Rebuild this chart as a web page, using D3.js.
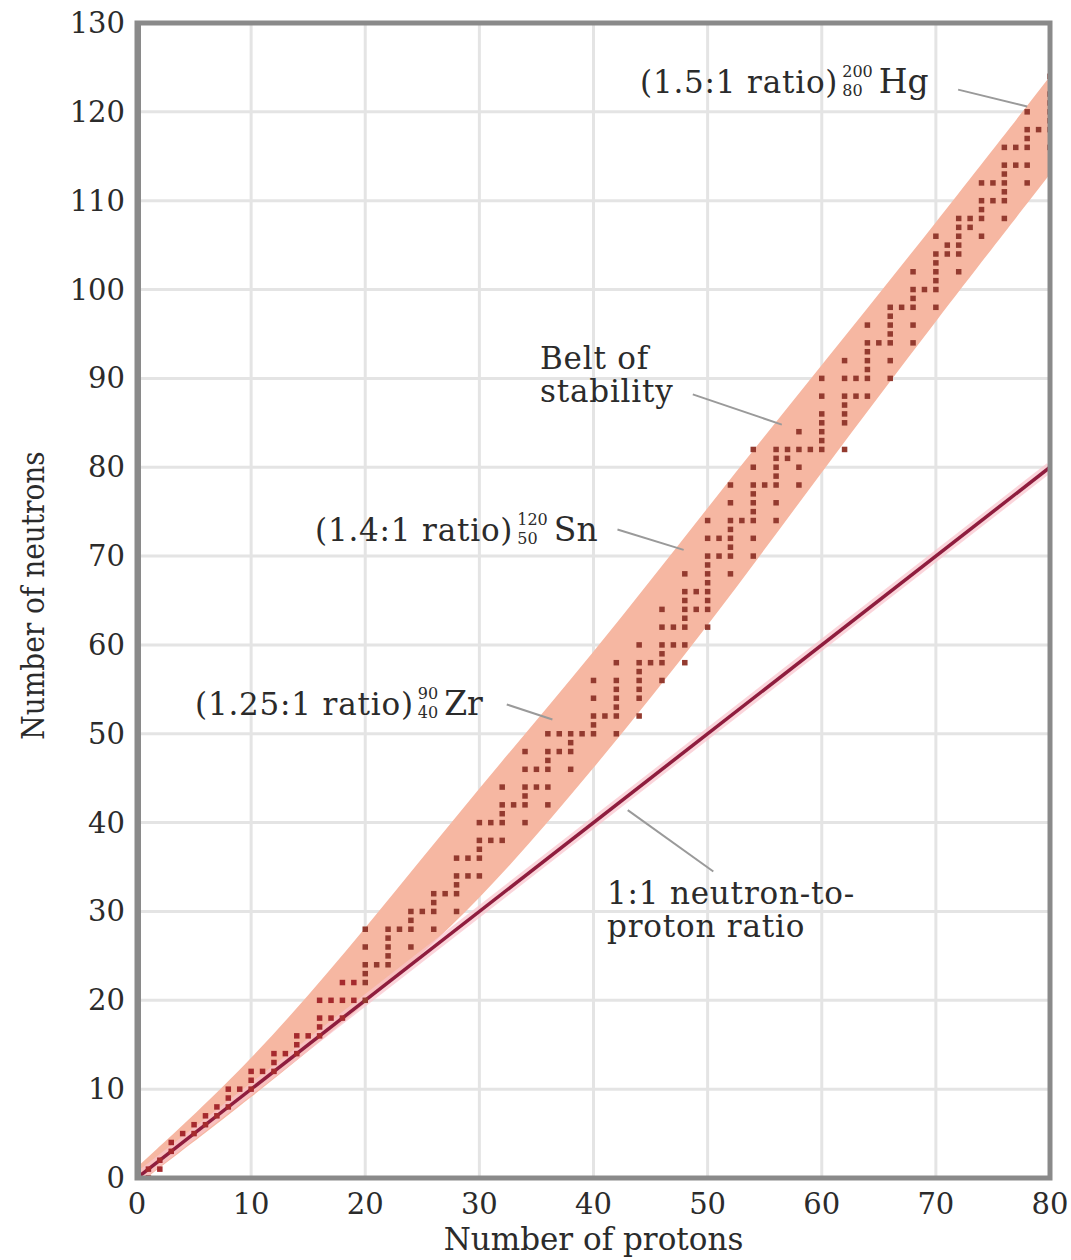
<!DOCTYPE html>
<html>
<head>
<meta charset="utf-8">
<script src="https://cdn.jsdelivr.net/npm/d3@7"></script>
<style>
  body { margin: 0; background: #fff; }
  text { font-family: "DejaVu Serif", "Liberation Serif", serif; fill: #2b2b2b; }
</style>
</head>
<body>
<script>
const width = 1071;
const height = 1260;
const margin = { top: 23, right: 21, bottom: 82, left: 137 };

// stable nuclides: neutron counts for each proton number Z = 1..80
const stableNeutrons = [
  [0, 1], [1, 2], [3, 4], [5], [5, 6], [6, 7], [7, 8], [8, 9, 10], [10], [10, 11, 12],
  [12], [12, 13, 14], [14], [14, 15, 16], [16], [16, 17, 18, 20], [18, 20], [18, 20, 22], [20, 22], [20, 22, 23, 24, 26, 28],
  [24], [24, 25, 26, 27, 28], [28], [26, 28, 29, 30], [30], [28, 30, 31, 32], [32], [30, 32, 33, 34, 36], [34, 36], [34, 36, 37, 38, 40],
  [38, 40], [38, 40, 41, 42, 44], [42], [40, 42, 43, 44, 46, 48], [44, 46], [42, 44, 46, 47, 48, 50], [48, 50], [46, 48, 49, 50], [50], [50, 51, 52, 54, 56],
  [52], [50, 52, 53, 54, 55, 56, 58], [], [52, 54, 55, 56, 57, 58, 60], [58], [56, 58, 59, 60, 62, 64], [60, 62], [58, 60, 62, 63, 64, 65, 66, 68], [64, 66], [62, 64, 65, 66, 67, 68, 69, 70, 72, 74],
  [70, 72], [68, 70, 71, 72, 73, 74, 76, 78], [74], [70, 72, 74, 75, 76, 77, 78, 80, 82], [78], [74, 76, 78, 79, 80, 81, 82], [81, 82], [78, 80, 82, 84], [82], [82, 83, 84, 85, 86, 88, 90],
  [], [82, 85, 86, 87, 88, 90, 92], [88, 90], [88, 90, 91, 92, 93, 94, 96], [94], [90, 92, 94, 95, 96, 97, 98], [98], [94, 96, 98, 99, 100, 102], [100], [98, 100, 101, 102, 103, 104, 106],
  [104, 105], [102, 104, 105, 106, 107, 108], [107, 108], [106, 108, 109, 110, 112], [110, 112], [108, 110, 111, 112, 113, 114, 116], [114, 116], [112, 114, 116, 117, 118, 120], [118], [116, 118, 119, 120, 121, 122, 124]
];

// belt of stability outline (neutron count at the band edges)
const beltProtons = [0, 10, 20, 30, 40, 50, 60, 70, 80];
const beltLower = [-0.8, 9, 19.5, 31, 46, 62, 79.5, 96.5, 113];
const beltUpper = [1.2, 13, 28, 44, 59, 75.5, 91.5, 107.5, 124];

// 1:1 reference line
const ratioLine = [[0, 0], [80, 80]];

const xTicks = d3.range(0, 81, 10);
const yTicks = d3.range(0, 131, 10);

const svg = d3.select("body").append("svg")
    .attr("width", width)
    .attr("height", height);

const x = d3.scaleLinear().domain([0, 80]).range([margin.left, width - margin.right]);
const y = d3.scaleLinear().domain([0, 130]).range([height - margin.bottom, margin.top]);

const plot = svg.append("g");

// clip to the frame
svg.append("clipPath").attr("id", "clip")
  .append("rect")
    .attr("x", x(0)).attr("y", y(130))
    .attr("width", x(80) - x(0)).attr("height", y(0) - y(130));

// grid
plot.append("g")
  .selectAll("line")
  .data(xTicks)
  .join("line")
    .attr("x1", d => x(d)).attr("x2", d => x(d))
    .attr("y1", y(0)).attr("y2", y(130))
    .attr("stroke", "#e4e4e4").attr("stroke-width", 3);

plot.append("g")
  .selectAll("line")
  .data(yTicks)
  .join("line")
    .attr("x1", x(0)).attr("x2", x(80))
    .attr("y1", d => y(d)).attr("y2", d => y(d))
    .attr("stroke", "#e4e4e4").attr("stroke-width", 3);

const inner = plot.append("g").attr("clip-path", "url(#clip)");

// belt of stability
const belt = beltProtons.map((z, i) => ({ z: z, lo: beltLower[i], hi: beltUpper[i] }));
inner.append("path")
    .datum(belt)
    .attr("fill", "#f6b7a2")
    .attr("d", d3.area()
        .x(d => x(d.z))
        .y0(d => y(d.lo))
        .y1(d => y(d.hi))
        .curve(d3.curveBasis));

// 1:1 line with soft halo
inner.append("path")
    .datum(ratioLine)
    .attr("fill", "none")
    .attr("stroke", "#f9c3cc")
    .attr("stroke-width", 10)
    .attr("stroke-opacity", 0.7)
    .attr("d", d3.line().x(d => x(d[0])).y(d => y(d[1])));

inner.append("path")
    .datum(ratioLine)
    .attr("fill", "none")
    .attr("stroke", "#8f1d3e")
    .attr("stroke-width", 3.5)
    .attr("d", d3.line().x(d => x(d[0])).y(d => y(d[1])));

// stable nuclides
const nuclides = [];
stableNeutrons.forEach((list, i) => {
    list.forEach(n => nuclides.push({ z: i + 1, n: n }));
});

const dot = 5.5;
inner.append("g")
  .selectAll("rect")
  .data(nuclides)
  .join("rect")
    .attr("x", d => x(d.z) - dot / 2)
    .attr("y", d => y(d.n) - dot / 2)
    .attr("width", dot)
    .attr("height", dot)
    .attr("fill", d => d.z < 20 ? "#a52a2e" : "#933a2f");

// frame
plot.append("rect")
    .attr("x", x(0)).attr("y", y(130))
    .attr("width", x(80) - x(0)).attr("height", y(0) - y(130))
    .attr("fill", "none")
    .attr("stroke", "#8a8a8a")
    .attr("stroke-width", 5);
plot.append("line")
    .attr("x1", x(0) + 1).attr("x2", x(0) + 1)
    .attr("y1", y(130)).attr("y2", y(0))
    .attr("stroke", "#8a8a8a").attr("stroke-width", 6);

// tick labels
svg.append("g")
  .selectAll("text")
  .data(xTicks)
  .join("text")
    .attr("x", d => x(d))
    .attr("y", y(0) + 36)
    .attr("text-anchor", "middle")
    .attr("font-size", 29)
    .text(d => d);

svg.append("g")
  .selectAll("text")
  .data(yTicks)
  .join("text")
    .attr("x", x(0) - 12)
    .attr("y", d => y(d) + 10)
    .attr("text-anchor", "end")
    .attr("font-size", 29)
    .text(d => d);

// axis titles
svg.append("text")
    .attr("x", (x(0) + x(80)) / 2)
    .attr("y", height - 10)
    .attr("text-anchor", "middle")
    .attr("font-size", 31)
    .text("Number of protons");

svg.append("text")
    .attr("transform", `translate(44, ${y(65) - 5}) rotate(-90) scale(1, 1.15)`)
    .attr("text-anchor", "middle")
    .attr("font-size", 28)
    .text("Number of neutrons");

// annotations
const fs = 31;
const leaders = [
    [[71.95, 122.5], [78.0, 120.6]],
    [[48.7, 88.2], [56.5, 84.8]],
    [[42.1, 73.0], [47.9, 70.7]],
    [[32.4, 53.3], [36.4, 51.6]],
    [[43.0, 41.4], [50.5, 34.5]]
];
svg.append("g")
  .selectAll("line")
  .data(leaders)
  .join("line")
    .attr("x1", d => x(d[0][0])).attr("y1", d => y(d[0][1]))
    .attr("x2", d => x(d[1][0])).attr("y2", d => y(d[1][1]))
    .attr("stroke", "#9a9a9a")
    .attr("stroke-width", 2);

function isotopeLabel(px, py, ratio, mass, number, symbol) {
    const g = svg.append("g");
    const t = g.append("text")
        .attr("x", px).attr("y", py)
        .attr("font-size", fs)
        .attr("letter-spacing", 0.8)
        .text(ratio);
    const w = t.node().getComputedTextLength();
    const sx = px + w + 4;
    const sup = g.append("text")
        .attr("x", sx).attr("y", py - 16)
        .attr("font-size", 16)
        .text(mass);
    const sub = g.append("text")
        .attr("x", sx).attr("y", py + 3)
        .attr("font-size", 16)
        .text(number);
    const sw = Math.max(sup.node().getComputedTextLength(), sub.node().getComputedTextLength());
    g.append("text")
        .attr("x", sx + sw + 6).attr("y", py)
        .attr("font-size", fs + 2)
        .text(symbol);
}

isotopeLabel(640, 93, "(1.5:1 ratio)", "200", "80", "Hg");
isotopeLabel(315, 541, "(1.4:1 ratio)", "120", "50", "Sn");
isotopeLabel(195, 715, "(1.25:1 ratio)", "90", "40", "Zr");

svg.append("text").attr("x", 540).attr("y", 369).attr("font-size", fs).attr("letter-spacing", 0.8).text("Belt of");
svg.append("text").attr("x", 540).attr("y", 402).attr("font-size", fs).attr("letter-spacing", 0.8).text("stability");
svg.append("text").attr("x", 607).attr("y", 904).attr("font-size", fs).attr("letter-spacing", 0.8).text("1:1 neutron-to-");
svg.append("text").attr("x", 607).attr("y", 937).attr("font-size", fs).attr("letter-spacing", 0.8).text("proton ratio");
</script>
</body>
</html>
